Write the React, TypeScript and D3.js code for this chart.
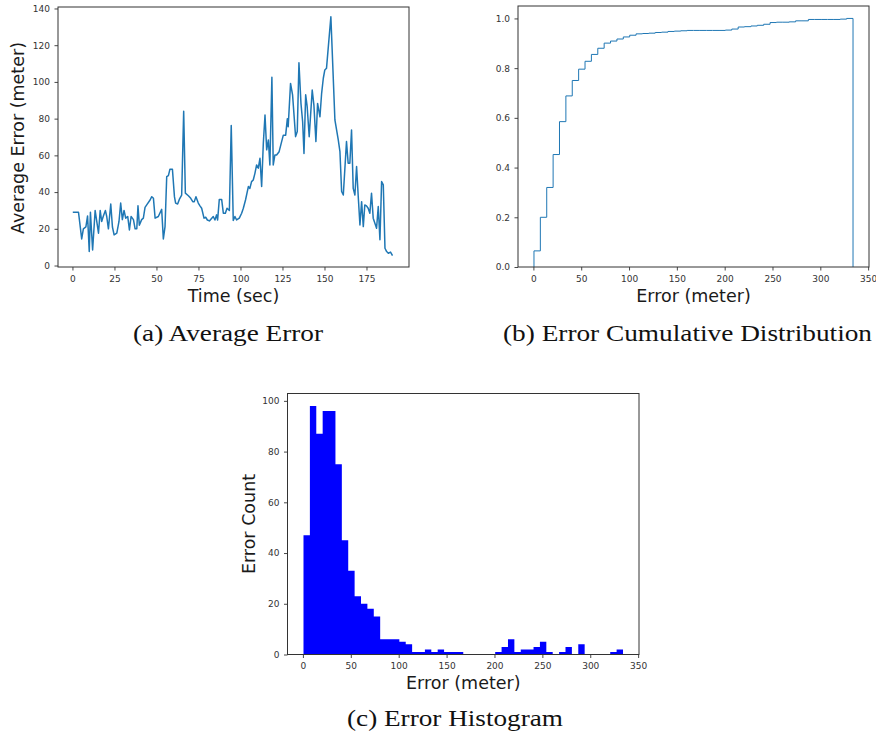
import React, { useEffect, useRef } from 'react';
import * as d3 from 'd3';

// (a) average error over time
const TIME_SEC = [
  0.2, 3.6, 5.5, 6.5, 8, 9, 10, 10.7, 12, 13.5,
  15.5, 16.5, 17.4, 18.4, 19.6, 20.4, 21.4, 22.8, 23.8, 24.8,
  26.4, 27.7, 28.7, 29.7, 30.7, 31.7, 32.9, 33.9, 34.9, 36.3,
  37.3, 38.3, 39, 39.8, 41.2, 42.2, 43.2, 44.2, 46.2, 47.2,
  48.2, 49.2, 51.1, 53.1, 54.1, 55.1, 56.1, 57.1, 58, 59.5,
  60.7, 61.4, 62.6, 63.6, 65, 66.2, 67.2, 69, 70.4, 71.6,
  72.5, 73.5, 74.9, 75.9, 76.9, 78.3, 79.3, 80.3, 81.5, 82.9,
  83.8, 84.8, 85.8, 86.4, 87.4, 88.8, 89.8, 91, 92, 93.4,
  94.5, 95.7, 96.7, 97.7, 99.3, 100.7, 101.7, 103, 104.7, 105.6,
  106.6, 107.6, 108.6, 109.6, 110.6, 111.6, 112.6, 113.6, 114.6, 115.6,
  116.6, 117.5, 118.7, 119.5, 120.5, 121.5, 123, 124.5, 125.5, 126.9,
  127.9, 128.4, 129.8, 131, 132.8, 133.8, 134.8, 136, 137, 137.8,
  138.8, 139.7, 140.9, 142.7, 143.7, 144.9, 145.9, 147.3, 148.3, 149.3,
  150.2, 151.2, 153.8, 156.2, 158.2, 159.2, 160.2, 161.2, 163.1, 164.1,
  165.1, 166.1, 167.1, 168.1, 169.1, 170.1, 171.1, 172.1, 173.1, 174,
  175, 176, 177, 178, 179, 180, 181, 182, 183, 184,
  185, 186, 187, 188, 189.3, 190.5
];
const AVG_ERROR = [
  29, 29, 14.5, 20, 21, 27, 7.6, 29, 8.5, 30,
  17.6, 30, 24, 27, 30, 26.7, 20, 33.5, 21, 16.7,
  17.6, 24, 34, 25, 30, 25.8, 26.7, 19.4, 26.7, 25,
  20, 20, 32.5, 22, 25, 25.8, 31.7, 33, 35.7, 37.5,
  36.6, 25.8, 26.7, 30.6, 14.5, 21.2, 48.4, 49, 52.4, 52.4,
  37.5, 34, 33.5, 36, 38.4, 84, 39.4, 38, 36.6, 34.8,
  34.8, 37.5, 34, 32.5, 31.2, 25.8, 26.3, 24.8, 24.3, 25.8,
  26.7, 24.8, 27.6, 24.8, 36, 36, 28.5, 28.5, 31.2, 30,
  76.3, 24.5, 26.7, 24.8, 25.8, 28.5, 31.2, 35.7, 43, 42,
  45.7, 46.6, 50.2, 54.8, 53, 58.4, 43, 66.6, 82, 63,
  68.4, 54.8, 102.5, 54.8, 60.2, 60.2, 62, 67.5, 71, 71,
  80, 75.6, 99.2, 93, 70.2, 73, 110.4, 88.3, 78.3, 61,
  93, 86.5, 70.2, 95.6, 87.4, 67.5, 88.3, 81, 93.8, 102,
  106.5, 107.4, 135.5, 79.3, 68.4, 62, 40.3, 38.4, 67.5, 55.7,
  55.7, 73.8, 42, 38.4, 53.9, 37.5, 22.1, 34.8, 21.2, 33,
  32.5, 31.2, 28.5, 39.4, 25.8, 23, 20.3, 32.1, 14, 45.7,
  43.9, 9.4, 7.6, 6.7, 7.3, 5.4
];

// (c) histogram counts, 50 equal bins between min and max error
const HIST_COUNTS = [
  47, 98, 87, 96, 96, 75, 45, 33, 23, 20,
  18, 15, 6, 6, 6, 5, 4, 1, 1, 2,
  1, 2, 1, 1, 1, 0, 0, 0, 0, 0,
  1, 3, 6, 1, 2, 2, 3, 5, 1, 0,
  1, 3, 0, 4, 0, 0, 0, 0, 1, 2
];
const ERR_MIN = 0.6;
const ERR_MAX = 334.2;

const TIME_TICKS = [0, 25, 50, 75, 100, 125, 150, 175];
const AVG_TICKS = [0, 20, 40, 60, 80, 100, 120, 140];
const ERR_TICKS = [0, 50, 100, 150, 200, 250, 300, 350];
const CDF_TICKS = [0, 0.2, 0.4, 0.6, 0.8, 1.0];
const COUNT_TICKS = [0, 20, 40, 60, 80, 100];

const CAPTIONS = ['(a) Average Error', '(b) Error Cumulative Distribution', '(c) Error Histogram'];

const W = 876;
const H = 737;
const FONT = "'DejaVu Sans', sans-serif";
const SERIF = "'Liberation Serif', serif";
const INK = '#333';

type Box = { left: number; top: number; right: number; bottom: number };

function drawAxes(svg, box: Box, x, y, xTicks, yTicks, yFmt = d3.format('d')) {
  const g = svg.append('g');
  const xa = g.append('g')
    .attr('transform', `translate(0,${box.bottom})`)
    .call(d3.axisBottom(x).tickValues(xTicks).tickSize(3.5).tickPadding(5).tickFormat(d3.format('d')));
  const ya = g.append('g')
    .attr('transform', `translate(${box.left},0)`)
    .call(d3.axisLeft(y).tickValues(yTicks).tickSize(3.5).tickPadding(4.5).tickFormat(yFmt));
  [xa, ya].forEach(a => {
    a.select('.domain').remove();
    a.attr('font-family', FONT).attr('font-size', 9);
    a.selectAll('line').attr('stroke', INK).attr('stroke-width', 0.9);
    a.selectAll('text').attr('fill', INK);
  });
  g.append('rect')
    .attr('x', box.left).attr('y', box.top)
    .attr('width', box.right - box.left).attr('height', box.bottom - box.top)
    .attr('fill', 'none').attr('stroke', INK).attr('stroke-width', 1);
}

function label(svg, text, x, y, rotate = false) {
  svg.append('text')
    .attr('transform', rotate ? `translate(${x},${y}) rotate(-90)` : `translate(${x},${y})`)
    .attr('text-anchor', 'middle')
    .attr('font-family', FONT)
    .attr('font-size', 17.5)
    .attr('fill', '#1a1a1a')
    .text(text);
}

function caption(svg, text, cx, y, width) {
  svg.append('text')
    .attr('x', cx - width / 2).attr('y', y)
    .attr('font-family', SERIF)
    .attr('font-size', 24)
    .attr('fill', '#111')
    .attr('textLength', width)
    .attr('lengthAdjust', 'spacingAndGlyphs')
    .text(text);
}

export default function App() {
  const svgRef = useRef(null);

  useEffect(() => {
    const svg = d3.select(svgRef.current);
    svg.selectAll('*').remove();

    const binW = (ERR_MAX - ERR_MIN) / HIST_COUNTS.length;
    const edges = d3.range(HIST_COUNTS.length + 1).map(i => ERR_MIN + i * binW);
    const total = d3.sum(HIST_COUNTS);
    const cum = Array.from(d3.cumsum(HIST_COUNTS)).map(c => c / total);

    /* (a) Average Error */
    const boxA = { left: 58, top: 7, right: 409, bottom: 267 };
    const xA = d3.scaleLinear().domain([-8.6, 200.3]).range([boxA.left, boxA.right]);
    const yA = d3.scaleLinear().domain([-0.8, 140.8]).range([boxA.bottom, boxA.top]);
    const line = d3.line<number>().x((d, i) => xA(TIME_SEC[i])).y(d => yA(d));
    svg.append('path')
      .attr('d', line(AVG_ERROR))
      .attr('fill', 'none')
      .attr('stroke', '#1f77b4')
      .attr('stroke-width', 1.5)
      .attr('stroke-linejoin', 'round');
    drawAxes(svg, boxA, xA, yA, TIME_TICKS, AVG_TICKS);
    label(svg, 'Time (sec)', 233.5, 302);
    label(svg, 'Average Error (meter)', 23.5, 138, true);

    /* (b) CDF */
    const boxB = { left: 518, top: 6, right: 869, bottom: 267 };
    const xB = d3.scaleLinear().domain([-16.1, 350.9]).range([boxB.left, boxB.right]);
    const yB = d3.scaleLinear().domain([0, 1.05]).range([boxB.bottom, boxB.top]);
    const pts: [number, number][] = [[edges[0], 0]];
    cum.forEach((c, i) => pts.push([edges[i], c]));
    pts.push([edges[edges.length - 1], cum[cum.length - 1]]);
    pts.push([edges[edges.length - 1], 0]);
    const step = d3.line<[number, number]>().x(d => xB(d[0])).y(d => yB(d[1])).curve(d3.curveStepAfter);
    svg.append('path')
      .attr('d', step(pts))
      .attr('fill', 'none')
      .attr('stroke', '#1f77b4')
      .attr('stroke-width', 1);
    drawAxes(svg, boxB, xB, yB, ERR_TICKS, CDF_TICKS, d3.format('.1f'));
    label(svg, 'Error (meter)', 693.5, 302);

    /* (c) Histogram */
    const boxC = { left: 287.5, top: 393.5, right: 639, bottom: 654.5 };
    const xC = d3.scaleLinear().domain([-16.1, 350.9]).range([boxC.left, boxC.right]);
    const yC = d3.scaleLinear().domain([0, 102.9]).range([boxC.bottom, boxC.top]);
    const histPts: [number, number][] = HIST_COUNTS.map((c, i) => [edges[i], c]);
    histPts.push([edges[edges.length - 1], HIST_COUNTS[HIST_COUNTS.length - 1]]);
    const area = d3.area<[number, number]>()
      .x(d => xC(d[0])).y0(yC(0)).y1(d => yC(d[1]))
      .curve(d3.curveStepAfter);
    svg.append('path').attr('d', area(histPts)).attr('fill', '#0000ff');
    drawAxes(svg, boxC, xC, yC, ERR_TICKS, COUNT_TICKS);
    label(svg, 'Error (meter)', 463.3, 689);
    label(svg, 'Error Count', 255, 524, true);

    /* captions */
    caption(svg, CAPTIONS[0], 228, 341, 190);
    caption(svg, CAPTIONS[1], 687.5, 341, 369);
    caption(svg, CAPTIONS[2], 455, 726, 216);
  }, []);

  return (
    <div style={{ position: 'absolute', left: 0, top: 0, width: W, height: H, background: '#fff' }}>
      <svg ref={svgRef} width={W} height={H} />
    </div>
  );
}
